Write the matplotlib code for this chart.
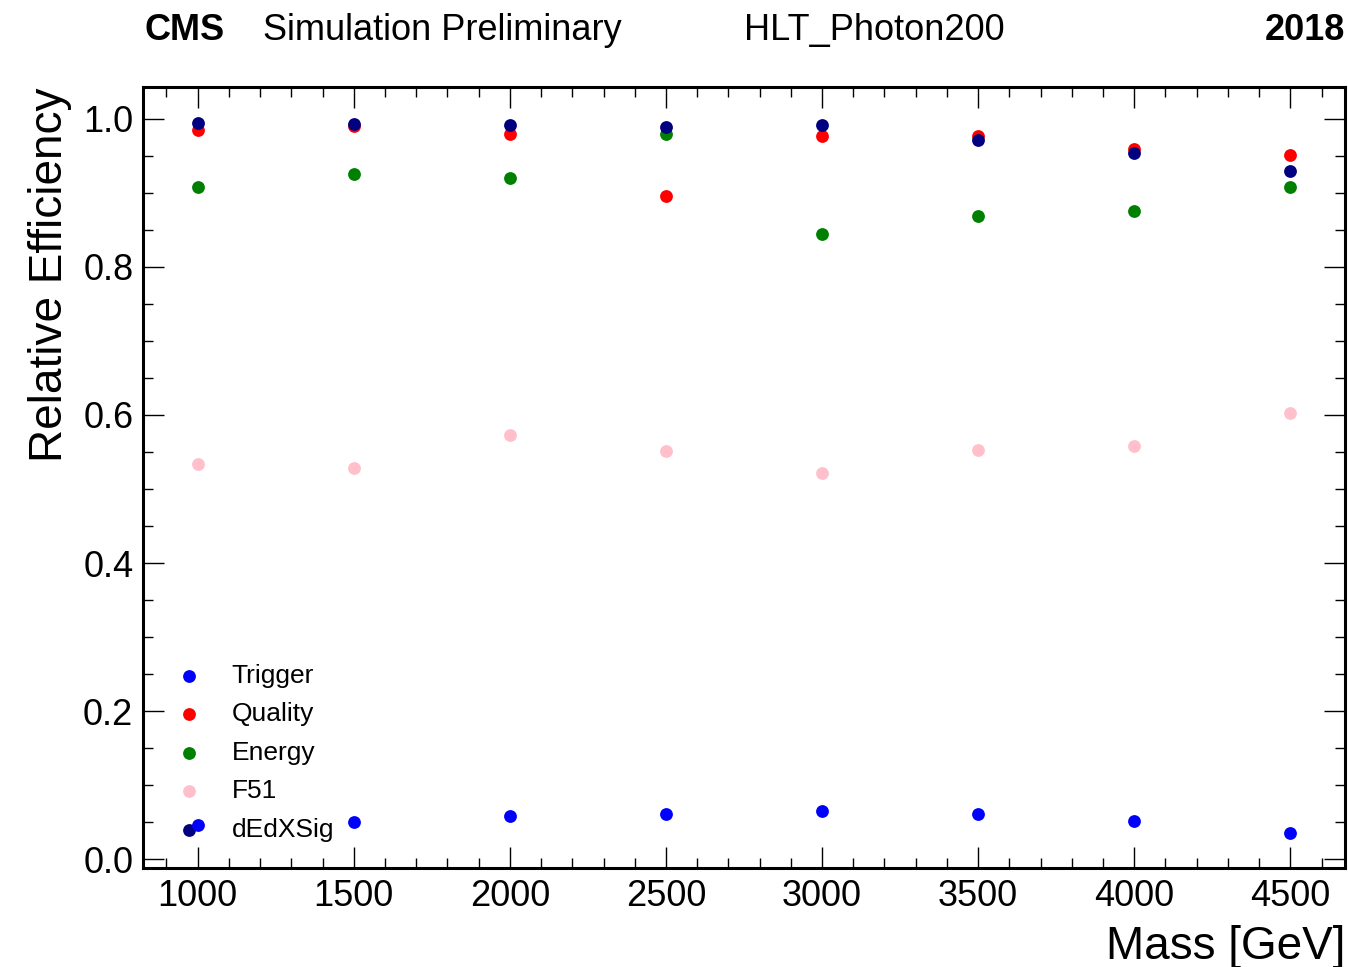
import matplotlib
matplotlib.use("Agg")
import matplotlib.pyplot as plt
from matplotlib.ticker import MultipleLocator

plt.rcParams['font.family'] = ['Liberation Sans', 'DejaVu Sans']

masses = [1000, 1500, 2000, 2500, 3000, 3500, 4000, 4500]
trigger = [0.046, 0.050, 0.058, 0.061, 0.065, 0.061, 0.051, 0.036]
quality = [0.985, 0.990, 0.980, 0.896, 0.977, 0.977, 0.959, 0.951]
energy = [0.908, 0.925, 0.920, 0.980, 0.845, 0.869, 0.876, 0.908]
f51 = [0.534, 0.529, 0.573, 0.551, 0.522, 0.553, 0.558, 0.602]
dedxsig = [0.995, 0.993, 0.991, 0.989, 0.991, 0.971, 0.954, 0.930]

series = [
    ("Trigger", trigger, "blue"),
    ("Quality", quality, "red"),
    ("Energy", energy, "green"),
    ("F51", f51, "pink"),
    ("dEdXSig", dedxsig, "navy"),
]

fig = plt.figure(figsize=(13.48, 9.67), dpi=100)
ax = fig.add_axes([143/1348, 1-868/967, (1345-143)/1348, (868-87)/967])

for name, vals, col in series:
    ax.scatter(masses, vals, s=85, color=col, label=name, zorder=2, linewidths=0)

ax.xaxis.set_major_locator(MultipleLocator(500))
ax.xaxis.set_minor_locator(MultipleLocator(100))
ax.yaxis.set_major_locator(MultipleLocator(0.2))
ax.yaxis.set_minor_locator(MultipleLocator(0.05))
ax.yaxis.set_major_formatter(matplotlib.ticker.FormatStrFormatter('%.1f'))
ax.tick_params(which='both', direction='in', top=True, right=True, labelsize=26)
ax.tick_params(which='major', length=15, width=1.0)
ax.tick_params(which='minor', length=7, width=1.0)
ax.tick_params(axis='x', which='major', pad=8)
ax.tick_params(axis='y', which='major', pad=7)
for sp in ax.spines.values():
    sp.set_linewidth(2.2)

ax.set_xlabel("Mass [GeV]", fontsize=33, loc='right', labelpad=8)
ax.set_ylabel("Relative Efficiency", fontsize=33, loc='top', labelpad=8)

leg = ax.legend(loc='lower left', fontsize=19, frameon=False, handlelength=1.5,
                handletextpad=0.85, labelspacing=0.55, borderaxespad=0.6,
                scatterpoints=1)
leg.set_zorder(1)

ty = 1 - 40/967
fig.text(145/1348, ty, "CMS", fontsize=26, fontweight='bold', ha='left', va='baseline')
fig.text(263/1348, ty, "Simulation Preliminary", fontsize=26, ha='left', va='baseline')
fig.text(874/1348, ty, "HLT_Photon200", fontsize=26, ha='center', va='baseline')
fig.text(1345/1348, ty, "2018", fontsize=26, fontweight='bold', ha='right', va='baseline')

fig.savefig("out.png", dpi=100)
